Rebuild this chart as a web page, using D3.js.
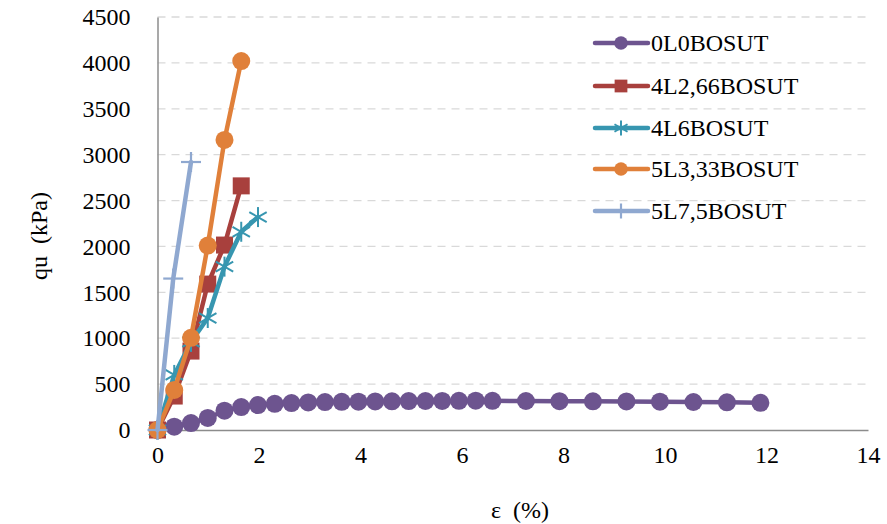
<!DOCTYPE html>
<html><head><meta charset="utf-8">
<script src="https://cdn.jsdelivr.net/npm/d3@7"></script>
<style>body{margin:0;background:#fff}svg{display:block}svg text{font-family:"Liberation Serif","Times New Roman",serif !important;}</style>
</head><body><svg id="c" width="887" height="524"></svg>
<script>
const xTicks = [0,2,4,6,8,10,12,14];
const yTicks = [0,500,1000,1500,2000,2500,3000,3500,4000,4500];
const seriesNames = ["0L0BOSUT","4L2,66BOSUT","4L6BOSUT","5L3,33BOSUT","5L7,5BOSUT"];
const s0L0 = [[0,0],[0.33,36],[0.66,76],[0.99,131],[1.32,210],[1.65,250],[1.98,272],[2.31,285],[2.64,294],[2.97,300],[3.30,304],[3.63,307],[3.96,309],[4.29,311],[4.62,313],[4.95,315],[5.28,316],[5.61,317],[5.94,318],[6.27,319],[6.60,318],[7.26,316],[7.92,314],[8.58,313],[9.24,311],[9.90,308],[10.56,305],[11.22,302],[11.88,296]];
const s4L266 = [[0,0],[0.33,370],[0.66,860],[0.99,1590],[1.32,2015],[1.65,2660]];
const s4L6 = [[0,0],[0.33,600],[0.66,960],[0.99,1220],[1.32,1780],[1.65,2160],[1.98,2320]];
const s5L333 = [[0,0],[0.33,436],[0.66,1005],[0.99,2010],[1.32,3160],[1.65,4020]];
const s5L75 = [[0,0],[0.31,1650],[0.66,2920]];
const seriesData = [s0L0,s4L266,s4L6,s5L333,s5L75];
const colors = ["#6D548F","#A8403D","#3796B0","#E0803A","#8FA8D0"];
const markers = ["circle","square","star","circle","plus"];

const svg = d3.select("#c");
const x = d3.scaleLinear().domain([0,14]).range([157.5,868]);
const y = d3.scaleLinear().domain([0,4500]).range([430,17]);
const font = "Liberation Serif, Times New Roman, serif";

// gridlines
svg.append("g").selectAll("line").data(yTicks.filter(d=>d>0)).join("line")
  .attr("x1",x(0)).attr("x2",x(14)).attr("y1",d=>y(d)).attr("y2",d=>y(d))
  .attr("stroke","#D9D9D9").attr("stroke-width",1.3).attr("stroke-dasharray","8,6");

// axes
const xAxis = d3.axisBottom(x).tickValues(xTicks).tickFormat(d3.format("d")).tickSize(0).tickPadding(16);
const gx = svg.append("g").attr("transform",`translate(0,${y(0)})`).call(xAxis)
  .attr("font-family",font).attr("font-size",24);
gx.select(".domain").attr("stroke","#8C8C8C").attr("stroke-width",1.5);
gx.selectAll("text").attr("fill","#000");
const yAxis = d3.axisLeft(y).tickValues(yTicks).tickFormat(d3.format("d")).tickSize(0).tickPadding(27);
const gy = svg.append("g").attr("transform",`translate(${x(0)},0)`).call(yAxis)
  .attr("font-family",font).attr("font-size",24);
gy.select(".domain").attr("stroke","#8C8C8C").attr("stroke-width",1.5);
gy.selectAll("text").attr("fill","#000");

svg.append("text").attr("transform","translate(47,236) rotate(-90)").attr("text-anchor","middle")
  .attr("font-family",font).attr("font-size",24).style("white-space","pre").text("qu  (kPa)");
svg.append("text").attr("x",520).attr("y",518).attr("text-anchor","middle")
  .attr("font-family",font).attr("font-size",24).style("white-space","pre").text("ε  (%)");

function drawMarker(g, type, cx, cy, color, scale){
  const k = scale||1;
  if(type==="circle"){
    g.append("circle").attr("cx",cx).attr("cy",cy).attr("r",9*k).attr("fill",color);
  } else if(type==="square"){
    const s=17*k;
    g.append("rect").attr("x",cx-s/2).attr("y",cy-s/2).attr("width",s).attr("height",s).attr("fill",color);
  } else if(type==="star"){
    const r=10*k;
    [[0,-r,0,r],[-r*0.87,-r*0.5,r*0.87,r*0.5],[-r*0.87,r*0.5,r*0.87,-r*0.5]].forEach(l=>{
      g.append("line").attr("x1",cx+l[0]).attr("y1",cy+l[1]).attr("x2",cx+l[2]).attr("y2",cy+l[3])
       .attr("stroke",color).attr("stroke-width",2);
    });
  } else if(type==="plus"){
    const r=10*k;
    g.append("line").attr("x1",cx-r).attr("x2",cx+r).attr("y1",cy).attr("y2",cy).attr("stroke",color).attr("stroke-width",2.2);
    g.append("line").attr("x1",cx).attr("x2",cx).attr("y1",cy-r).attr("y2",cy+r).attr("stroke",color).attr("stroke-width",2.2);
  }
}

const line = d3.line().x(d=>x(d[0])).y(d=>y(d[1]));
seriesData.forEach((data,i)=>{
  const g = svg.append("g");
  g.append("path").datum(data).attr("d",line).attr("fill","none").attr("stroke",colors[i])
    .attr("stroke-width",4.5).attr("stroke-linejoin","round").attr("stroke-linecap","round");
  data.forEach(d=>drawMarker(g,markers[i],x(d[0]),y(d[1]),colors[i]));
});

// legend
const legendY = [43,86,128,169,211];
seriesNames.forEach((name,i)=>{
  const g = svg.append("g");
  g.append("line").attr("x1",595).attr("x2",648).attr("y1",legendY[i]).attr("y2",legendY[i])
    .attr("stroke",colors[i]).attr("stroke-width",4.5).attr("stroke-linecap","round");
  drawMarker(g,markers[i],621,legendY[i],colors[i],0.75);
  g.append("text").attr("x",651).attr("y",legendY[i]+8).attr("font-family",font).attr("font-size",24)
    .attr("fill","#000").text(name);
});
</script></body></html>
